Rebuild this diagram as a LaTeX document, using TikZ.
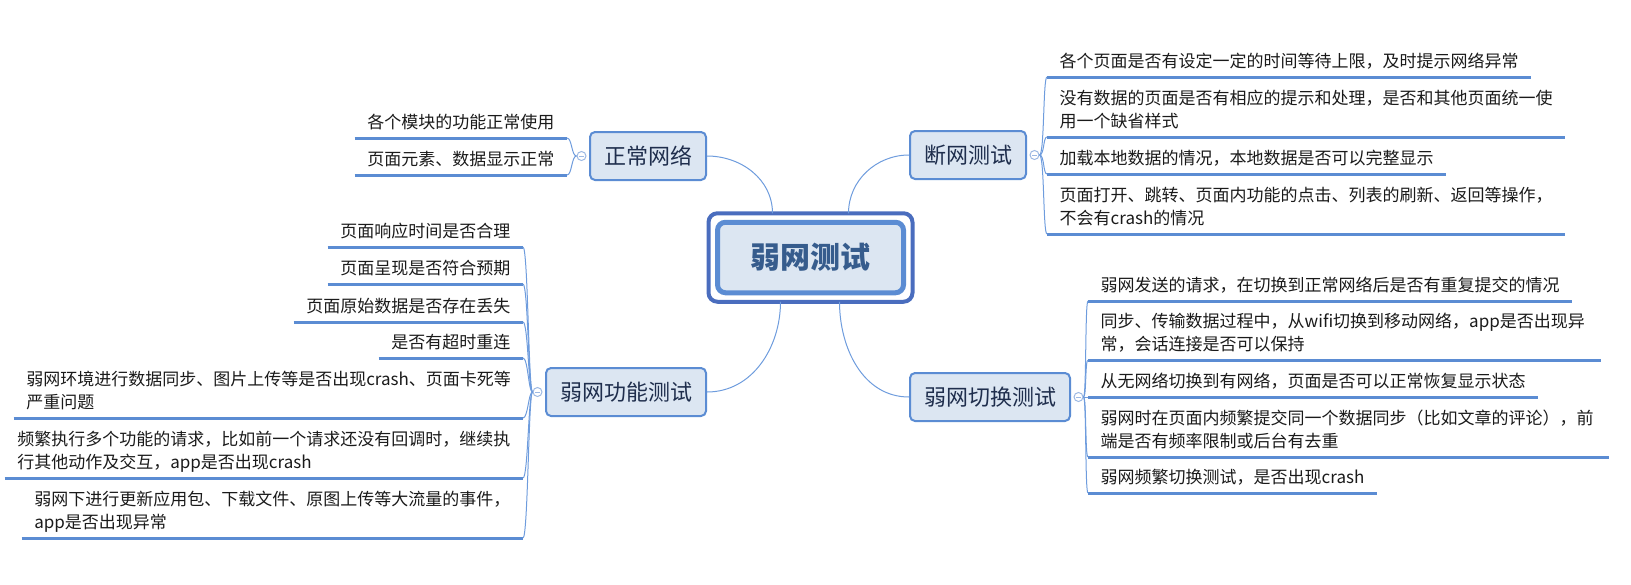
\documentclass[tikz,border=0pt]{standalone}
\usepackage{fontspec}
\setmainfont{Noto Sans CJK SC}
\usetikzlibrary{positioning,calc}
\definecolor{mmBlue}{HTML}{5B8CD3}
\definecolor{mmBlueD}{HTML}{4A6DBE}
\definecolor{mmBlueL}{HTML}{DCE6F2}
\definecolor{mmLink}{HTML}{6E9CDD}
\definecolor{mmFold}{HTML}{9DB9E3}
\definecolor{mmNavy}{HTML}{1F2E4D}
\definecolor{mmTitle}{HTML}{365C8D}
\definecolor{mmText}{HTML}{1A1A1A}
\tikzset{
  mm-main/.style={
    draw=mmBlue, line width=5pt, rounded corners=8pt, fill=mmBlueL,
    minimum width=186pt, minimum height=70.5pt, text=mmTitle,
    font=\fontsize{30pt}{36pt}\selectfont\bfseries
  },
  mm-frame/.style={draw=mmBlueD, line width=4pt, rounded corners=9pt},
  mm-sub/.style={
    draw=mmBlue, line width=2pt, rounded corners=5pt, fill=mmBlueL,
    minimum height=48pt, inner xsep=14pt, text=mmNavy,
    font=\fontsize{22pt}{26pt}\selectfont
  },
  mm-fold/.style={
    circle, draw=mmFold, fill=white, line width=1pt, minimum size=9pt,
    inner sep=0pt,
    path picture={\draw[mmFold, line width=1pt]
      ([xshift=-2.5pt]path picture bounding box.center) --
      ([xshift=2.5pt]path picture bounding box.center);}
  },
  mm-leaf/.style={
    inner xsep=12.5pt, inner ysep=2pt, align=left, text=mmText,
    font=\fontsize{17pt}{23.5pt}\selectfont, execute at end node=\strut
  },
  mm-under/.style={draw=mmBlue, line width=3pt},
  mm-link/.style={draw=mmLink, line width=1pt}
}
\begin{document}
\begin{tikzpicture}[x=1pt, y=1pt, node distance=2.5pt]
\useasboundingbox (0,0) rectangle (1631,-584);
% Centre
\node[mm-main] (c) at (810.5,-257.5) {弱网测试};
\draw[mm-frame] ([xshift=-6.5pt,yshift=6.5pt]c.north west) rectangle
  ([xshift=6.5pt,yshift=-6.5pt]c.south east);
% Topics
\node[mm-sub, anchor=east] (zc) at (707,-156) {正常网络};
\node[mm-sub, anchor=west] (dw) at (909,-155) {断网测试};
\node[mm-sub, anchor=west] (qh) at (909,-397) {弱网切换测试};
\node[mm-sub, anchor=east] (gn) at (707,-392) {弱网功能测试};
\node[mm-fold, left=of zc] (zcf) {};
\node[mm-fold, right=of dw] (dwf) {};
\node[mm-fold, right=of qh] (qhf) {};
\node[mm-fold, left=of gn] (gnf) {};
\draw[mm-link] ([xshift=-38pt,yshift=6.5pt]c.north) to[out=90,in=0] (zc.east);
\draw[mm-link] ([xshift=38pt,yshift=6.5pt]c.north) to[out=90,in=180] (dw.west);
\draw[mm-link] ([xshift=-30pt,yshift=-6.5pt]c.south) to[out=-90,in=0] (gn.east);
\draw[mm-link] ([xshift=29pt,yshift=-6.5pt]c.south) to[out=-90,in=180] (qh.west);
% 正常网络
\node[mm-leaf, anchor=south east] (zc1) at (567,-138) {各个模块的功能正常使用};
\node[mm-leaf, anchor=south east] (zc2) at (567,-175) {页面元素、数据显示正常};
% 断网测试
\node[mm-leaf, anchor=south west] (dw1) at (1047,-77) {各个页面是否有设定一定的时间等待上限，及时提示网络异常};
\node[mm-leaf, anchor=south west, text width=493pt] (dw2) at (1047,-137)
  {没有数据的页面是否有相应的提示和处理，是否和其他页面统一使\\用一个缺省样式};
\node[mm-leaf, anchor=south west] (dw3) at (1047,-174) {加载本地数据的情况，本地数据是否可以完整显示};
\node[mm-leaf, anchor=south west, text width=493pt] (dw4) at (1047,-234)
  {页面打开、跳转、页面内功能的点击、列表的刷新、返回等操作，\\不会有crash的情况};
% 弱网切换测试
\node[mm-leaf, anchor=south west] (qh1) at (1088,-301) {弱网发送的请求，在切换到正常网络后是否有重复提交的情况};
\node[mm-leaf, anchor=south west, text width=488pt] (qh2) at (1088,-360)
  {同步、传输数据过程中，从wifi切换到移动网络，app是否出现异\\常，会话连接是否可以保持};
\node[mm-leaf, anchor=south west] (qh3) at (1088,-397) {从无网络切换到有网络，页面是否可以正常恢复显示状态};
\node[mm-leaf, anchor=south west, text width=496pt] (qh4) at (1088,-457)
  {弱网时在页面内频繁提交同一个数据同步（比如文章的评论），前\\端是否有频率限制或后台有去重};
\node[mm-leaf, anchor=south west] (qh5) at (1088,-493) {弱网频繁切换测试，是否出现crash};
% 弱网功能测试
\node[mm-leaf, anchor=south east] (gn1) at (523,-247) {页面响应时间是否合理};
\node[mm-leaf, anchor=south east] (gn2) at (523,-284) {页面呈现是否符合预期};
\node[mm-leaf, anchor=south east] (gn3) at (523,-322) {页面原始数据是否存在丢失};
\node[mm-leaf, anchor=south east] (gn4) at (523,-358) {是否有超时重连};
\node[mm-leaf, anchor=south east, text width=484pt] (gn5) at (523,-418)
  {弱网环境进行数据同步、图片上传等是否出现crash、页面卡死等\\严重问题};
\node[mm-leaf, anchor=south east, text width=493pt] (gn6) at (523,-478)
  {频繁执行多个功能的请求，比如前一个请求还没有回调时，继续执\\行其他动作及交互，app是否出现crash};
\node[mm-leaf, anchor=south east, text width=476pt] (gn7) at (523,-538)
  {弱网下进行更新应用包、下载文件、原图上传等大流量的事件，\\app是否出现异常};
% Underlines and links
\foreach \l in {zc1,zc2}{
  \draw[mm-under] (\l.south west) -- (\l.south east);
  \draw[mm-link] (zcf.west) .. controls +(-5,0) and +(5,0) .. (\l.south east);
}
\foreach \l in {dw1,dw2,dw3,dw4}{
  \draw[mm-under] (\l.south west) -- (\l.south east);
  \draw[mm-link] (dwf.east) .. controls +(5,0) and +(-4,0) .. (\l.south west);
}
\foreach \l in {qh1,qh2,qh3,qh4,qh5}{
  \draw[mm-under] (\l.south west) -- (\l.south east);
  \draw[mm-link] (qhf.east) .. controls +(3,0) and +(-3,0) .. (\l.south west);
}
\foreach \l in {gn1,gn2,gn3,gn4,gn5,gn6,gn7}{
  \draw[mm-under] (\l.south west) -- (\l.south east);
  \draw[mm-link] (gnf.west) .. controls +(-4,0) and +(5,0) .. (\l.south east);
}
\end{tikzpicture}
\end{document}
